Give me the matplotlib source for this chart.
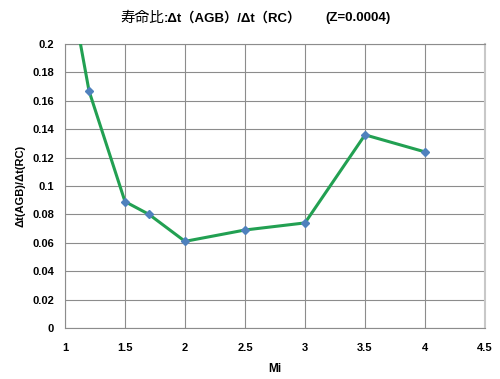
import matplotlib
matplotlib.use('Agg')
import matplotlib.pyplot as plt

# Data
massValues = [1.0, 1.2, 1.5, 1.7, 2.0, 2.5, 3.0, 3.5, 4.0]
lifetimeRatio = [0.26, 0.167, 0.089, 0.080, 0.061, 0.069, 0.074, 0.136, 0.124]

xTicks = [1, 1.5, 2, 2.5, 3, 3.5, 4, 4.5]
xTickLabels = ['1', '1.5', '2', '2.5', '3', '3.5', '4', '4.5']
yTicks = [0, 0.02, 0.04, 0.06, 0.08, 0.1, 0.12, 0.14, 0.16, 0.18, 0.2]
yTickLabels = ['0', '0.02', '0.04', '0.06', '0.08', '0.1', '0.12', '0.14', '0.16', '0.18', '0.2']

latinFont = ['Liberation Sans', 'DejaVu Sans']
plt.rcParams['font.family'] = ['Noto Sans CJK JP', 'DejaVu Sans']

fig = plt.figure(figsize=(5, 3.79), dpi=100)
ax = fig.add_axes([0.13, 0.1346, 0.84, 0.7494])

ax.plot(massValues, lifetimeRatio, color='#22a052', linewidth=2.2,
        marker='D', markersize=4.5, markerfacecolor='#4f81bd',
        markeredgecolor='#4f81bd', zorder=3)

ax.set_xlim(1, 4.5)
ax.set_ylim(0, 0.2)
ax.set_xticks(xTicks)
ax.set_xticklabels(xTickLabels)
ax.set_yticks(yTicks)
ax.set_yticklabels(yTickLabels)
ax.tick_params(axis='x', length=0, labelsize=8, pad=11)
ax.tick_params(axis='y', length=0, labelsize=8, pad=8)
for lbl in ax.get_xticklabels() + ax.get_yticklabels():
    lbl.set_fontweight('bold')
    lbl.set_family(latinFont)

ax.grid(True, color='#8c8c8c', linewidth=0.8)
ax.set_axisbelow(True)
for side in ['top', 'bottom', 'left']:
    ax.spines[side].set_color('#8c8c8c')
    ax.spines[side].set_linewidth(0.8)
ax.spines['right'].set_color('#c8c8c8')
ax.spines['right'].set_linewidth(1.5)

ax.set_xlabel('Mi', fontsize=8.5, fontweight='bold', family=latinFont, labelpad=7)
ax.set_ylabel('Δt(AGB)/Δt(RC)', fontsize=8, fontweight='bold', family=latinFont, labelpad=5)

# title: CJK part in regular weight, the rest bold, chained left to right
titleCjk = fig.text(0.24, 0.952, '寿命比', ha='left', va='center', fontsize=10.5)
fig.canvas.draw()
ax.annotate(':Δt（AGB）/Δt（RC）', xy=(1, 0.5), xycoords=titleCjk,
            ha='left', va='center', fontsize=9.5, fontweight='bold',
            family=['Liberation Sans', 'Noto Sans CJK JP', 'DejaVu Sans'],
            annotation_clip=False)
fig.text(0.65, 0.952, '(Z=0.0004)', ha='left', va='center',
         fontsize=9.5, fontweight='bold', family=latinFont)

fig.savefig('out.png', dpi=100)
